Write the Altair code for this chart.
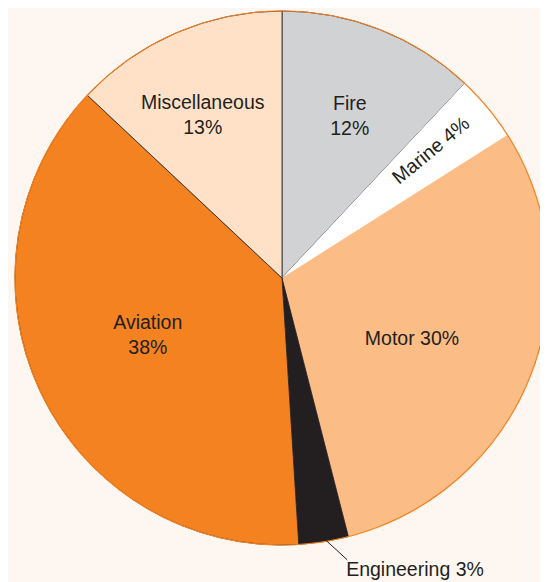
import altair as alt
import pandas as pd

# ---- data ----
categories = ["Fire", "Marine", "Motor", "Engineering", "Aviation", "Miscellaneous"]
shares = [12, 4, 30, 3, 38, 13]
labels = ["Fire\n12%", "Marine 4%", "Motor 30%", "Engineering 3%", "Aviation\n38%", "Miscellaneous\n13%"]
colors = ["#D1D2D4", "#FFFFFF", "#FBBC85", "#231F20", "#F58220", "#FEE1C7"]

df = pd.DataFrame({
    "category": categories,
    "share": shares,
    "label": labels,
    "order": list(range(len(categories))),
})

CX, CY, R = 274, 269, 267
FONT = "Liberation Sans"
FS = 19.5
TXT = "#231F20"
DOM = [0, 100]

base = alt.Chart(df)

pie = base.mark_arc(radius=R, stroke="#231F20", strokeWidth=0.8).encode(
    theta=alt.Theta("share:Q", stack=True, scale=alt.Scale(domain=DOM)),
    color=alt.Color("category:N", scale=alt.Scale(domain=categories, range=colors), legend=None),
    order=alt.Order("order:Q"),
    strokeOpacity=alt.condition(
        alt.FieldOneOfPredicate(field="category", oneOf=["Marine", "Motor"]),
        alt.value(0), alt.value(1)),
    x=alt.value(CX), y=alt.value(CY),
)

outline = base.transform_aggregate(total="sum(share)").mark_arc(
    radius=R, fillOpacity=0, stroke="#F58220", strokeWidth=1.2
).encode(
    theta=alt.Theta("total:Q", stack=True, scale=alt.Scale(domain=DOM)),
    x=alt.value(CX), y=alt.value(CY),
)

mid_base = base.transform_window(
    cum="sum(share)", sort=[alt.SortField("order")], frame=[None, 0]
).transform_calculate(mid="datum.cum - datum.share / 2")


def label_layer(cat, radius, dx=0, dy=0, angle=0):
    return mid_base.transform_filter(alt.datum.category == cat).mark_text(
        radius=radius, dx=dx, dy=dy, angle=angle, align="center", baseline="middle",
        lineBreak="\n", lineHeight=25, font=FONT, fontSize=FS, color=TXT,
    ).encode(
        theta=alt.Theta("mid:Q", stack=False, scale=alt.Scale(domain=DOM)),
        text="label:N",
        x=alt.value(CX), y=alt.value(CY),
    )


lab_fire = label_layer("Fire", 176, dx=3, dy=-10)
lab_marine = label_layer("Marine", 196, dx=0, dy=-3, angle=320.4)
lab_motor = label_layer("Motor", 143, dx=-3, dy=8)
lab_aviation = label_layer("Aviation", 145, dx=-3, dy=-17)
lab_misc = label_layer("Miscellaneous", 182, dx=-7, dy=-8)

eng = mid_base.transform_filter(alt.datum.category == "Engineering").transform_calculate(
    ang="datum.mid * 2 * PI / 100",
).transform_calculate(
    x1=f"{CX} + {R - 4} * sin(datum.ang)",
    y1=f"{CY} - {R - 4} * cos(datum.ang)",
).transform_calculate(
    x2="datum.x1 + 24",
    y2="datum.y1 + 22",
)

leader = eng.mark_rule(color=TXT, strokeWidth=1).encode(
    x=alt.X("x1:Q", scale=None, axis=None),
    y=alt.Y("y1:Q", scale=None, axis=None),
    x2="x2:Q",
    y2="y2:Q",
)

lab_eng = eng.mark_text(
    align="left", baseline="alphabetic", dx=-1, dy=16, font=FONT, fontSize=FS, color=TXT
).encode(
    x=alt.X("x2:Q", scale=None, axis=None),
    y=alt.Y("y2:Q", scale=None, axis=None),
    text="label:N",
)

chart = alt.layer(
    pie, outline, lab_fire, lab_marine, lab_motor, lab_aviation, lab_misc, leader, lab_eng
).properties(
    width=532, height=574,
    autosize=alt.AutoSizeParams(type="fit", contains="padding"),
    padding=0,
    background="#FEF6F0",
).configure_view(stroke=None)

chart.save("out.html", embed_options={"renderer": "svg", "actions": False})
